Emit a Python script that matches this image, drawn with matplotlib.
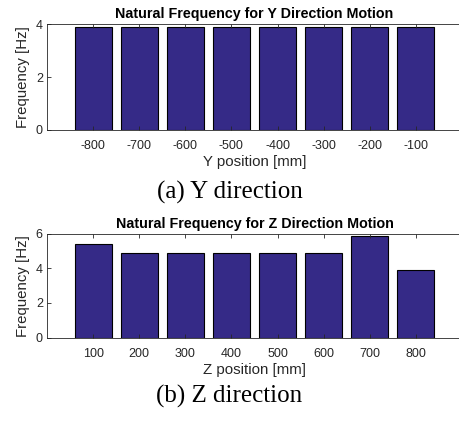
import matplotlib
matplotlib.use('Agg')
import matplotlib.pyplot as plt

# data
y_pos = [-800, -700, -600, -500, -400, -300, -200, -100]
y_freq = [3.9, 3.9, 3.9, 3.9, 3.9, 3.9, 3.9, 3.9]
z_pos = [100, 200, 300, 400, 500, 600, 700, 800]
z_freq = [5.4, 4.9, 4.9, 4.9, 4.9, 4.9, 5.9, 3.9]

sBar = '#352a87'
sAxis = '#262626'
plt.rcParams['font.family'] = ['Liberation Sans', 'DejaVu Sans']

fig = plt.figure(figsize=(4.59, 4.22), dpi=100)


def panel(rect, x, y, xlim, ylim, yticks, sTitle, sXlabel):
    ax = fig.add_axes(rect)
    ax.bar(x, y, width=80, color=sBar, edgecolor='black', linewidth=0.8)
    ax.set_xlim(xlim)
    ax.set_ylim(ylim)
    ax.set_xticks(x)
    ax.set_xticklabels([str(v) for v in x])
    ax.set_yticks(yticks)
    ax.tick_params(direction='in', length=3, width=0.6, colors=sAxis,
                   labelsize=9, top=True, right=False)
    ax.tick_params(axis='x', pad=7.5)
    ax.tick_params(axis='y', pad=3)
    for s in ['left', 'bottom', 'top']:
        ax.spines[s].set_color(sAxis)
        ax.spines[s].set_linewidth(0.6)
    ax.spines['right'].set_visible(False)
    ax.set_title(sTitle, fontsize=10.3, fontweight='bold', pad=4)
    ax.set_xlabel(sXlabel, fontsize=10.8, color=sAxis, labelpad=2)
    ax.set_ylabel('Frequency [Hz]', fontsize=10.8, color=sAxis, labelpad=4)
    return ax


panel([0.1024, 0.692, 0.904, 0.251], y_pos, y_freq, (-900, 0), (0, 4),
      [0, 2, 4], 'Natural Frequency for Y Direction Motion', 'Y position [mm]')
panel([0.1024, 0.200, 0.904, 0.246], z_pos, z_freq, (0, 900), (0, 6),
      [0, 2, 4, 6], 'Natural Frequency for Z Direction Motion', 'Z position [mm]')

fig.text(0.5, 1 - 192 / 422, '(a) Y direction', ha='center', va='center',
         fontsize=18, family='Liberation Serif')
fig.text(0.5, 1 - 396 / 422, '(b) Z direction', ha='center', va='center',
         fontsize=18, family='Liberation Serif')

fig.savefig('out.png', dpi=100)
